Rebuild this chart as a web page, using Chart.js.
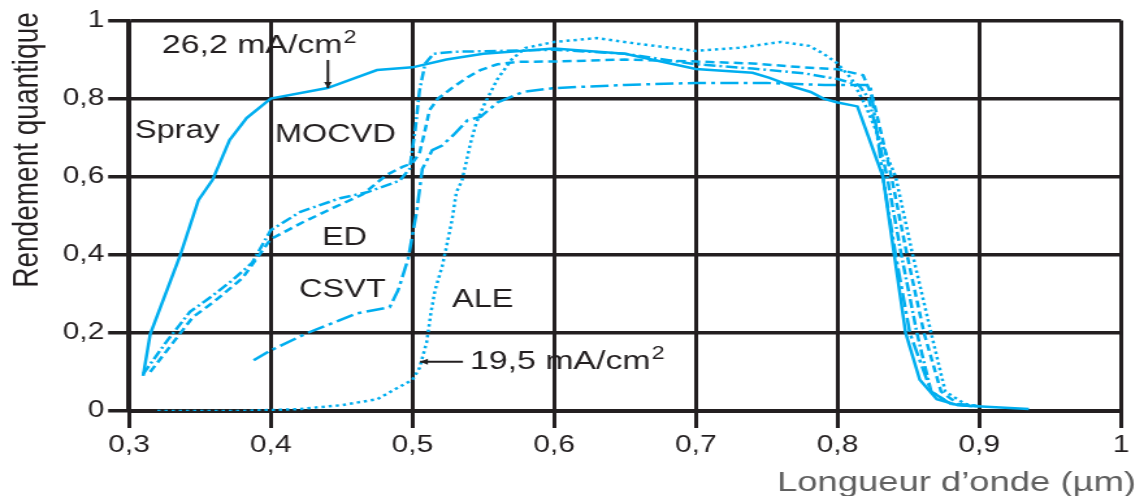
<!DOCTYPE html>
<html>
<head>
<meta charset="utf-8">
<script src="https://cdn.jsdelivr.net/npm/chart.js@4/dist/chart.umd.min.js"></script>
<style>
  html, body { margin: 0; padding: 0; background: #fff; overflow: hidden; width: 1136px; height: 496px; }
  /* the figure is set in a narrow frame and widened horizontally */
  #wrap { width: 874px; height: 496px; transform: scaleX(1.3); transform-origin: 0 0; }
  canvas { display: block; }
</style>
</head>
<body>
<div id="wrap"><canvas id="c" width="874" height="496"></canvas></div>
<script>
// Tick labels (French decimal comma)
const xTickLabels = ['0,3', '0,4', '0,5', '0,6', '0,7', '0,8', '0,9', '1'];
const yTickLabels = ['0', '0,2', '0,4', '0,6', '0,8', '1'];

// Spectral quantum efficiency, wavelength in µm
const sprayX = [0.310, 0.315, 0.336, 0.349, 0.359, 0.371, 0.383, 0.400, 0.440, 0.475, 0.500, 0.524, 0.550, 0.600, 0.650, 0.700, 0.740, 0.752, 0.769, 0.781, 0.790, 0.800, 0.814, 0.822, 0.832, 0.840, 0.848, 0.858, 0.870, 0.885, 0.935];
const sprayY = [0.090, 0.197, 0.397, 0.540, 0.592, 0.694, 0.750, 0.800, 0.827, 0.873, 0.880, 0.900, 0.915, 0.928, 0.915, 0.876, 0.866, 0.853, 0.830, 0.817, 0.800, 0.790, 0.780, 0.700, 0.600, 0.400, 0.200, 0.080, 0.030, 0.015, 0.005];

const mocvdX = [0.310, 0.327, 0.343, 0.357, 0.373, 0.387, 0.400, 0.421, 0.449, 0.468, 0.491, 0.498, 0.502, 0.505, 0.509, 0.515, 0.530, 0.560, 0.600, 0.650, 0.700, 0.740, 0.776, 0.800, 0.815, 0.822, 0.835, 0.845, 0.856, 0.866, 0.880, 0.900];
const mocvdY = [0.095, 0.180, 0.254, 0.290, 0.335, 0.380, 0.463, 0.510, 0.545, 0.560, 0.590, 0.620, 0.720, 0.820, 0.890, 0.915, 0.920, 0.922, 0.925, 0.915, 0.888, 0.877, 0.865, 0.850, 0.835, 0.800, 0.600, 0.400, 0.200, 0.050, 0.018, 0.012];

const edX = [0.315, 0.330, 0.345, 0.360, 0.380, 0.400, 0.423, 0.444, 0.465, 0.482, 0.493, 0.500, 0.505, 0.509, 0.512, 0.518, 0.529, 0.539, 0.548, 0.560, 0.574, 0.600, 0.650, 0.700, 0.740, 0.776, 0.800, 0.818, 0.825, 0.838, 0.849, 0.861, 0.873, 0.885, 0.900];
const edY = [0.100, 0.170, 0.240, 0.280, 0.340, 0.440, 0.484, 0.520, 0.555, 0.605, 0.625, 0.635, 0.660, 0.720, 0.770, 0.800, 0.830, 0.855, 0.873, 0.888, 0.894, 0.895, 0.900, 0.895, 0.890, 0.880, 0.875, 0.860, 0.800, 0.600, 0.400, 0.200, 0.050, 0.018, 0.012];

const csvtX = [0.388, 0.400, 0.426, 0.461, 0.484, 0.490, 0.497, 0.503, 0.507, 0.514, 0.521, 0.529, 0.539, 0.548, 0.560, 0.578, 0.600, 0.650, 0.700, 0.750, 0.791, 0.823, 0.826, 0.832, 0.841, 0.851, 0.866, 0.880, 0.895];
const csvtY = [0.130, 0.155, 0.200, 0.250, 0.266, 0.310, 0.390, 0.510, 0.620, 0.668, 0.680, 0.707, 0.745, 0.753, 0.790, 0.817, 0.827, 0.835, 0.840, 0.840, 0.835, 0.835, 0.760, 0.600, 0.400, 0.200, 0.050, 0.018, 0.012];

const aleX = [0.320, 0.380, 0.420, 0.450, 0.475, 0.490, 0.500, 0.505, 0.510, 0.513, 0.516, 0.521, 0.524, 0.528, 0.531, 0.535, 0.541, 0.545, 0.550, 0.560, 0.570, 0.580, 0.600, 0.630, 0.660, 0.700, 0.730, 0.760, 0.780, 0.790, 0.800, 0.810, 0.820, 0.841, 0.853, 0.866, 0.876, 0.890, 0.900];
const aleY = [0.000, 0.000, 0.005, 0.015, 0.030, 0.060, 0.080, 0.110, 0.175, 0.250, 0.310, 0.370, 0.420, 0.490, 0.560, 0.590, 0.686, 0.737, 0.780, 0.850, 0.900, 0.930, 0.945, 0.955, 0.940, 0.922, 0.930, 0.945, 0.935, 0.915, 0.890, 0.850, 0.780, 0.600, 0.400, 0.200, 0.050, 0.018, 0.012];

const INK = '#231f20';
const CYAN = '#00aeef';
const FONT = '"Liberation Sans", Arial, Helvetica, sans-serif';

const pts = (xs, ys) => xs.map((v, i) => ({ x: v, y: ys[i] }));
const series = (label, xs, ys, dash) => ({
  label,
  data: pts(xs, ys),
  borderColor: CYAN,
  borderWidth: 2.5,
  borderDash: dash,
  pointRadius: 0,
  tension: 0,
  fill: false
});

// Curve names, current density call-outs and axis titles
const curveNotes = [
  { text: 'Spray', x: 0.3042, y: 0.699 },
  { text: 'MOCVD', x: 0.4030, y: 0.689 },
  { text: 'ED', x: 0.4362, y: 0.425 },
  { text: 'CSVT', x: 0.4200, y: 0.292 },
  { text: 'ALE', x: 0.5280, y: 0.266 }
];
const currentNotes = [
  { text: '26,2 mA/cm', sup: '2', x: 0.3233, y: 0.917, from: [0.4404, 0.899], to: [0.4404, 0.827] },
  { text: '19,5 mA/cm', sup: '2', x: 0.5407, y: 0.1076, from: [0.5357, 0.126], to: [0.5054, 0.126] }
];

const notesPlugin = {
  id: 'notes',
  afterDraw(chart) {
    const { ctx, scales: { x, y } } = chart;
    ctx.save();
    ctx.fillStyle = INK;
    ctx.strokeStyle = INK;
    ctx.textAlign = 'left';
    ctx.textBaseline = 'alphabetic';

    ctx.font = '25px ' + FONT;
    curveNotes.forEach(n => ctx.fillText(n.text, x.getPixelForValue(n.x), y.getPixelForValue(n.y)));

    currentNotes.forEach(n => {
      const px = x.getPixelForValue(n.x), py = y.getPixelForValue(n.y);
      ctx.font = '26px ' + FONT;
      ctx.fillText(n.text, px, py);
      const w = ctx.measureText(n.text).width;
      ctx.font = '18px ' + FONT;
      ctx.fillText(n.sup, px + w + 1, py - 10);

      const x0 = x.getPixelForValue(n.from[0]), y0 = y.getPixelForValue(n.from[1]);
      const x1 = x.getPixelForValue(n.to[0]), y1 = y.getPixelForValue(n.to[1]);
      ctx.lineWidth = 2;
      ctx.beginPath();
      ctx.moveTo(x0, y0);
      ctx.lineTo(x1, y1);
      ctx.stroke();
      const a = Math.atan2(y1 - y0, x1 - x0), L = 6, H = 3;
      ctx.beginPath();
      ctx.moveTo(x1, y1);
      ctx.lineTo(x1 - L * Math.cos(a) + H * Math.sin(a), y1 - L * Math.sin(a) - H * Math.cos(a));
      ctx.lineTo(x1 - L * Math.cos(a) - H * Math.sin(a), y1 - L * Math.sin(a) + H * Math.cos(a));
      ctx.closePath();
      ctx.fill();
    });

    // axis titles
    ctx.font = '28px ' + FONT;
    ctx.save();
    ctx.translate(28.5, 150);
    ctx.rotate(-Math.PI / 2);
    ctx.textAlign = 'center';
    ctx.fillText('Rendement quantique', 0, 0);
    ctx.restore();

    ctx.fillStyle = '#5f5f5f';
    ctx.textAlign = 'left';
    ctx.fillText('Longueur d\u2019onde (\u00b5m)', 597.7, 491);
    ctx.restore();
  }
};

new Chart(document.getElementById('c'), {
  type: 'line',
  data: {
    datasets: [
      series('Spray', sprayX, sprayY, []),
      series('MOCVD', mocvdX, mocvdY, [9, 3, 2, 3]),
      series('ED', edX, edY, [7, 4]),
      series('CSVT', csvtX, csvtY, [14, 4, 3, 4]),
      series('ALE', aleX, aleY, [2.5, 3])
    ]
  },
  options: {
    responsive: false,
    animation: false,
    devicePixelRatio: 1,
    layout: { padding: { left: 0, right: 11.7, top: 20.5, bottom: 0 } },
    plugins: { legend: { display: false }, title: { display: false }, tooltip: { enabled: false } },
    scales: {
      x: {
        type: 'linear',
        min: 0.3,
        max: 1,
        afterFit: s => { s.height = 85; },
        afterBuildTicks: s => { s.ticks = xTickLabels.map((_, i) => ({ value: 0.3 + i / 10 })); },
        ticks: {
          autoSkip: false,
          maxRotation: 0,
          padding: 4,
          color: INK,
          font: { family: FONT, size: 23 },
          callback: (v, i) => xTickLabels[i]
        },
        grid: { color: INK, lineWidth: 3, tickLength: 17, drawTicks: true },
        border: { color: INK, width: 3 }
      },
      y: {
        type: 'linear',
        min: 0,
        max: 1,
        afterFit: s => { s.width = 99.2; },
        afterBuildTicks: s => { s.ticks = yTickLabels.map((_, i) => ({ value: i / 5 })); },
        ticks: {
          padding: 3,
          color: INK,
          font: { family: FONT, size: 23 },
          callback: (v, i) => yTickLabels[i]
        },
        grid: { color: INK, lineWidth: 3.5, tickLength: 16, drawTicks: true },
        border: { color: INK, width: 3.5 }
      }
    }
  },
  plugins: [notesPlugin]
});
</script>
</body>
</html>
